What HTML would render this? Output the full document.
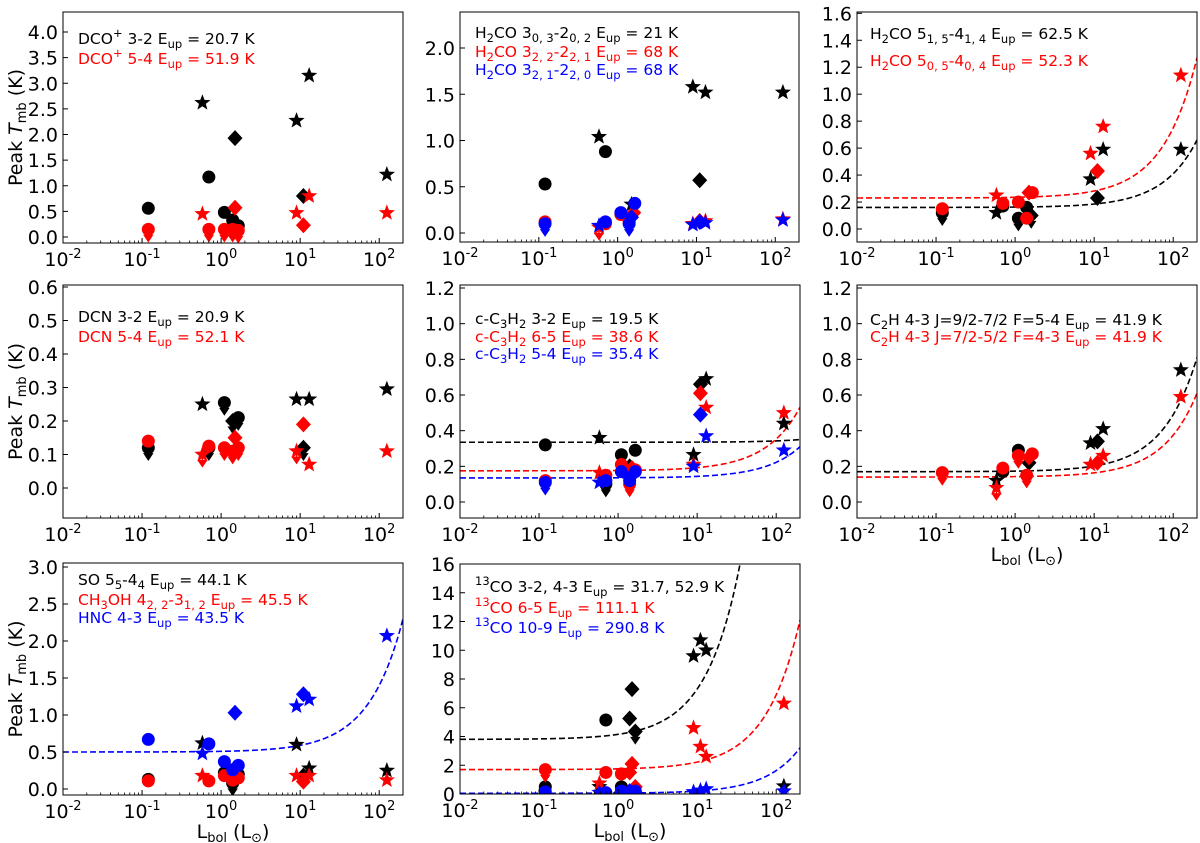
<!DOCTYPE html>
<html><head><meta charset="utf-8">
<style>
html,body{margin:0;padding:0;background:#fff;}
svg{display:block;font-family:"DejaVu Sans","Liberation Sans",sans-serif;}
text{white-space:pre;}
</style></head>
<body>
<svg id="fig" width="1200" height="843" viewBox="0 0 1200 843" xmlns="http://www.w3.org/2000/svg"></svg>
<script>
// ---------- data: [Lbol, Tpeak, marker, upperLimit] ----------
const xTickLabels = ["10^{-2}","10^{-1}","10^{0}","10^{1}","10^{2}"];
const xTickValues = [0.01,0.1,1,10,100];

const p1Black=[[0.12,0.56,'o',0],[0.58,2.62,'*',0],[0.7,1.17,'o',0],[1.1,0.48,'o',0],[1.4,0.33,'o',0],[1.5,1.93,'d',0],[1.65,0.22,'o',0],[9,2.27,'*',0],[11,0.8,'d',0],[13,3.15,'*',0],[125,1.22,'*',0]];
const p1Red=[[0.12,0.15,'o',1],[0.58,0.45,'*',0],[0.7,0.15,'o',1],[1.1,0.15,'o',1],[1.4,0.15,'o',1],[1.5,0.57,'d',0],[1.65,0.13,'o',1],[9,0.47,'*',0],[11,0.23,'d',0],[13,0.8,'*',0],[125,0.47,'*',0]];

const p2Black=[[0.12,0.53,'o',0],[0.58,1.04,'*',0],[0.7,0.88,'o',0],[1.5,0.31,'*',0],[9,1.58,'*',0],[11,0.57,'d',0],[13,1.52,'*',0],[125,1.52,'*',0]];
const p2Red=[[0.12,0.12,'o',0],[0.58,0.06,'*',1],[0.7,0.1,'o',0],[1.1,0.2,'o',0],[1.4,0.12,'o',0],[1.6,0.22,'d',0],[9,0.1,'*',0],[11,0.13,'d',0],[13,0.13,'*',0],[125,0.15,'*',0]];
const p2Blue=[[0.12,0.1,'o',1],[0.58,0.08,'*',0],[0.7,0.12,'o',0],[1.1,0.22,'o',0],[1.4,0.1,'o',1],[1.5,0.17,'d',0],[1.65,0.32,'o',0],[9,0.09,'*',0],[11,0.12,'d',0],[13,0.11,'*',0],[125,0.14,'*',0]];

const p3Black=[[0.12,0.12,'o',1],[0.58,0.12,'*',0],[0.7,0.17,'o',0],[1.1,0.08,'o',1],[1.4,0.16,'o',0],[1.6,0.1,'d',1],[9,0.37,'*',0],[11,0.23,'d',0],[13,0.59,'*',0],[125,0.59,'*',0]];
const p3Red=[[0.12,0.15,'o',0],[0.58,0.25,'*',0],[0.7,0.19,'o',0],[1.1,0.2,'o',0],[1.4,0.08,'o',0],[1.5,0.27,'d',0],[1.65,0.27,'o',0],[9,0.56,'*',0],[11,0.43,'d',0],[13,0.76,'*',0],[125,1.14,'*',0]];
const p3Fits=[[0.16,0.0025,'#000'],[0.23,0.0052,'#f00']];

const p4Black=[[0.12,0.12,'o',1],[0.58,0.25,'*',0],[0.7,0.12,'o',1],[1.1,0.255,'o',1],[1.4,0.2,'d',1],[1.65,0.21,'o',1],[9,0.265,'*',0],[11,0.12,'d',1],[13,0.265,'*',0],[125,0.295,'*',0]];
const p4Red=[[0.12,0.14,'o',0],[0.58,0.1,'*',1],[0.7,0.125,'o',0],[1.1,0.12,'o',1],[1.4,0.11,'o',1],[1.5,0.15,'d',0],[1.65,0.12,'o',1],[9,0.11,'*',1],[11,0.19,'d',0],[13,0.07,'*',0],[125,0.11,'*',0]];

const p5Black=[[0.12,0.32,'o',0],[0.58,0.36,'*',0],[0.7,0.1,'o',1],[1.1,0.265,'o',0],[1.4,0.2,'d',0],[1.65,0.29,'o',0],[9,0.265,'*',0],[11,0.66,'d',0],[13,0.69,'*',0],[125,0.44,'*',0]];
const p5Red=[[0.12,0.12,'o',0],[0.58,0.165,'*',0],[0.7,0.15,'o',0],[1.1,0.21,'o',0],[1.4,0.1,'o',1],[1.5,0.19,'d',0],[1.65,0.18,'o',0],[9,0.21,'*',0],[11,0.61,'d',0],[13,0.53,'*',0],[125,0.5,'*',0]];
const p5Blue=[[0.12,0.11,'o',1],[0.58,0.11,'*',0],[0.7,0.12,'o',0],[1.1,0.17,'o',0],[1.4,0.12,'o',0],[1.5,0.15,'d',0],[1.65,0.17,'o',0],[9,0.2,'*',0],[11,0.49,'d',0],[13,0.37,'*',0],[125,0.29,'*',0]];
const p5Fits=[[0.335,0.000075,'#000'],[0.175,0.00178,'#f00'],[0.135,0.000875,'#00f']];

const p6Black=[[0.58,0.12,'*',0],[0.7,0.17,'o',0],[1.1,0.29,'o',0],[1.5,0.22,'d',0],[9,0.33,'*',0],[11,0.34,'d',0],[13,0.41,'*',0],[125,0.74,'*',0]];
const p6Red=[[0.12,0.165,'o',1],[0.58,0.08,'*',1],[0.7,0.19,'o',0],[1.1,0.26,'o',1],[1.4,0.15,'o',1],[1.5,0.25,'d',0],[1.65,0.27,'o',0],[9,0.21,'*',0],[11,0.22,'d',0],[13,0.26,'*',0],[125,0.59,'*',0]];
const p6Fits=[[0.17,0.0032,'#000'],[0.14,0.00235,'#f00']];

const p7Black=[[0.12,0.13,'o',0],[0.58,0.62,'*',0],[1.1,0.22,'o',0],[1.4,0.08,'o',1],[1.65,0.2,'o',0],[9,0.6,'*',0],[11,0.18,'d',0],[13,0.28,'*',0],[125,0.25,'*',0]];
const p7Red=[[0.12,0.11,'o',0],[0.58,0.18,'*',0],[0.7,0.11,'o',0],[1.1,0.18,'o',0],[1.4,0.12,'o',0],[1.5,0.15,'d',0],[1.65,0.15,'o',0],[9,0.18,'*',0],[11,0.1,'d',0],[13,0.18,'*',0],[125,0.12,'*',0]];
const p7Blue=[[0.12,0.67,'o',0],[0.58,0.48,'*',0],[0.7,0.61,'o',0],[1.1,0.37,'o',0],[1.4,0.26,'o',0],[1.5,1.03,'d',0],[1.65,0.32,'o',0],[9,1.12,'*',0],[11,1.28,'d',0],[13,1.21,'*',0],[125,2.07,'*',0]];
const p7Fits=[[0.5,0.009,'#00f']];

const p8Black=[[0.12,0.5,'o',0],[0.58,0.5,'*',0],[0.7,5.15,'o',0],[1.1,0.5,'o',0],[1.4,5.25,'d',0],[1.5,7.3,'d',0],[1.65,4.35,'d',1],[9,9.6,'*',0],[11,10.7,'*',0],[13,10.0,'*',0],[125,0.55,'*',0]];
const p8Red=[[0.12,1.7,'o',1],[0.58,0.75,'*',0],[0.7,1.5,'o',0],[1.1,1.4,'o',0],[1.4,1.5,'d',0],[1.5,2.1,'d',0],[1.65,0.5,'d',0],[9,4.6,'*',0],[11,3.3,'*',0],[13,2.6,'*',0],[125,6.3,'*',0]];
const p8Blue=[[0.12,0.15,'o',0],[0.58,0.1,'*',0],[0.7,0.1,'o',0],[1.1,0.2,'o',0],[1.4,0.2,'d',0],[1.65,0.2,'o',0],[9,0.15,'*',0],[11,0.25,'*',0],[13,0.35,'*',0],[125,0.2,'*',0]];
const p8Fits=[[3.8,0.35,'#000'],[1.7,0.052,'#f00'],[0.05,0.0158,'#00f']];

// ---------- rendering ----------
const NS="http://www.w3.org/2000/svg";
const fig=document.getElementById('fig');
function el(tag,attrs,parent){const e=document.createElementNS(NS,tag);for(const k in attrs)e.setAttribute(k,attrs[k]);(parent||fig).appendChild(e);return e;}
function rich(s,sub){sub=sub||11;const re=/([_^])\{([^}]*)\}/g;let last=0,m;const segs=[];
 while((m=re.exec(s))){if(m.index>last)segs.push([s.slice(last,m.index),0]);segs.push([m[2],m[1]=='_'?1:-1]);last=re.lastIndex;}
 if(last<s.length)segs.push([s.slice(last),0]);
 let level=0,out='';for(const [t,l] of segs){const target=l==1?4:(l==-1?-Math.round(sub*0.6):0);const dy=target-level;level=target;
 out+='<tspan dy="'+dy+'"'+(l?' font-size="'+sub+'"':'')+'>'+t+'</tspan>';}return out;}
function starPath(cx,cy,R){let d='';for(let i=0;i<10;i++){const r=i%2?R*0.42:R;const a=-Math.PI/2+i*Math.PI/5;d+=(i?'L':'M')+(cx+r*Math.cos(a)).toFixed(2)+' '+(cy+r*Math.sin(a)).toFixed(2);}return d+'Z';}

const panels=[
 {id:'dco',f:[63,12,403,243],ya:[0,237],yb:[4,32],ticks:[0,0.5,1,1.5,2,2.5,3,3.5,4],dec:1,series:[[p1Black,'#000'],[p1Red,'#f00']],fits:[],
  leg:[["DCO^{+} 3-2 E_{up} = 20.7 K",'#000',44],["DCO^{+} 5-4 E_{up} = 51.9 K",'#f00',64]],lx:78,ylab:true},
 {id:'h2co-303',f:[460,12,799,242],ya:[0,233],yb:[2,48],ticks:[0,0.5,1,1.5,2],dec:1,series:[[p2Black,'#000'],[p2Red,'#f00'],[p2Blue,'#00f']],fits:[],
  leg:[["H_{2}CO 3_{0, 3}-2_{0, 2} E_{up} = 21 K",'#000',38],["H_{2}CO 3_{2, 2}-2_{2, 1} E_{up} = 68 K",'#f00',57],["H_{2}CO 3_{2, 1}-2_{2, 0} E_{up} = 68 K",'#00f',75]],lx:475},
 {id:'h2co-515',f:[857,12,1197,242],ya:[0,229],yb:[1.6,13.3],ticks:[0,0.2,0.4,0.6,0.8,1,1.2,1.4,1.6],dec:1,series:[[p3Black,'#000'],[p3Red,'#f00']],fits:p3Fits,
  leg:[["H_{2}CO 5_{1, 5}-4_{1, 4} E_{up} = 62.5 K",'#000',39],["H_{2}CO 5_{0, 5}-4_{0, 4} E_{up} = 52.3 K",'#f00',66]],lx:870},
 {id:'dcn',f:[63,285,403,518],ya:[0,488],yb:[0.6,287],ticks:[0,0.1,0.2,0.3,0.4,0.5,0.6],dec:1,series:[[p4Black,'#000'],[p4Red,'#f00']],fits:[],
  leg:[["DCN 3-2 E_{up} = 20.9 K",'#000',322],["DCN 5-4 E_{up} = 52.1 K",'#f00',342]],lx:78,ylab:true},
 {id:'c3h2',f:[460,285,800,518],ya:[0,502],yb:[1.2,288],ticks:[0,0.2,0.4,0.6,0.8,1,1.2],dec:1,series:[[p5Black,'#000'],[p5Red,'#f00'],[p5Blue,'#00f']],fits:p5Fits,
  leg:[["c-C_{3}H_{2} 3-2 E_{up} = 19.5 K",'#000',324],["c-C_{3}H_{2} 6-5 E_{up} = 38.6 K",'#f00',342],["c-C_{3}H_{2} 5-4 E_{up} = 35.4 K",'#00f',359]],lx:475},
 {id:'c2h',f:[857,285,1197,518],ya:[0,502],yb:[1.2,288],ticks:[0,0.2,0.4,0.6,0.8,1,1.2],dec:1,series:[[p6Black,'#000'],[p6Red,'#f00']],fits:p6Fits,
  leg:[["C_{2}H 4-3 J=9/2-7/2 F=5-4 E_{up} = 41.9 K",'#000',325],["C_{2}H 4-3 J=7/2-5/2 F=4-3 E_{up} = 41.9 K",'#f00',342]],lx:870,xlab:true},
 {id:'so',f:[63,563,403,795],ya:[0,789],yb:[3,567],ticks:[0,0.5,1,1.5,2,2.5,3],dec:1,series:[[p7Black,'#000'],[p7Red,'#f00'],[p7Blue,'#00f']],fits:p7Fits,
  leg:[["SO 5_{5}-4_{4} E_{up} = 44.1 K",'#000',585],["CH_{3}OH 4_{2, 2}-3_{1, 2} E_{up} = 45.5 K",'#f00',605],["HNC 4-3 E_{up} = 43.5 K",'#00f',623]],lx:78,ylab:true,xlab:true},
 {id:'13co',f:[460,564,800,794],ya:[0,794],yb:[16,564],ticks:[0,2,4,6,8,10,12,14,16],dec:0,series:[[p8Black,'#000'],[p8Red,'#f00'],[p8Blue,'#00f']],fits:p8Fits,
  leg:[["^{13}CO 3-2, 4-3 E_{up} = 31.7, 52.9 K",'#000',592],["^{13}CO 6-5 E_{up} = 111.1 K",'#f00',613],["^{13}CO 10-9 E_{up} = 290.8 K",'#00f',633]],lx:475,xlab:true}
];

panels.forEach((p,pi)=>{
 const [x0,y0,x1,y1]=p.f;
 const X=v=>x0+(Math.log10(v)+2)/(Math.log10(200)+2)*(x1-x0);
 const Y=v=>p.ya[1]+(v-p.ya[0])*(p.yb[1]-p.ya[1])/(p.yb[0]-p.ya[0]);
 const g=el('g',{});
 
 
 const cp=el('clipPath',{id:'clip'+pi},g);
 el('rect',{x:x0,y:y0,width:x1-x0,height:y1-y0},cp);
 const plot=el('g',{'clip-path':'url(#clip'+pi+')'},g);
 
 
 p.fits.forEach(ft=>{
  let d='';for(let i=0;i<=200;i++){const lv=-2+i*(Math.log10(200)+2)/200;const L=Math.pow(10,lv);d+=(i?'L':'M')+X(L).toFixed(2)+' '+Y(ft[0]+ft[1]*L).toFixed(2);}
  const path=el('path',{d:d,fill:'none',stroke:ft[2],'stroke-width':1.6,'stroke-dasharray':'6,3'},plot);
  
  
 });
 p.series.forEach(([arr,col])=>{
  arr.forEach(pt=>{
   const cx=X(pt[0]),cy=Y(pt[1]);let m;
   if(pt[3]){
    const a=el('path',{d:'M'+cx+' '+cy+'L'+cx+' '+(cy+8)+'M'+(cx-4)+' '+(cy+6)+'L'+(cx+4)+' '+(cy+6)+'L'+cx+' '+(cy+12)+'Z',stroke:col,fill:col,'stroke-width':1.3},plot);
    
    
   }
   if(pt[2]=='o')m=el('circle',{cx:cx,cy:cy,r:6.5,fill:col},plot);
   else if(pt[2]=='d')m=el('path',{d:'M'+cx+' '+(cy-8)+'L'+(cx+7.5)+' '+cy+'L'+cx+' '+(cy+8)+'L'+(cx-7.5)+' '+cy+'Z',fill:col},plot);
   else m=el('path',{d:starPath(cx,cy,8.5),fill:col},plot);
   
   
  });
 });
 const fr=el('rect',{x:x0,y:y0,width:x1-x0,height:y1-y0,fill:'none',stroke:'#000','stroke-width':1},g);
 
 
 for(let dcd=-2;dcd<=2;dcd++){for(let k=2;k<=9;k++){const v=k*Math.pow(10,dcd);if(v>200)break;const tx=X(v);el('line',{x1:tx,x2:tx,y1:y1,y2:y1-2.5,stroke:'#000','stroke-width':0.8},g);}}
 xTickValues.forEach((v,i)=>{const tx=X(v);el('line',{x1:tx,x2:tx,y1:y1,y2:y1-5,stroke:'#000','stroke-width':1},g);
  const t=el('text',{x:tx,y:y1+23,'text-anchor':'middle','font-size':19},g);t.innerHTML=rich(xTickLabels[i],13);
  
  });
 p.ticks.forEach(v=>{const ty=Y(v);el('line',{x1:x0,x2:x0+5,y1:ty,y2:ty,stroke:'#000','stroke-width':1},g);
  const t=el('text',{x:x0-5,y:ty+7,'text-anchor':'end','font-size':19},g);t.textContent=v.toFixed(p.dec);
  
  });
 p.leg.forEach(([s,c,by])=>{const t=el('text',{x:p.lx,y:by,'font-size':15.5,fill:c},g);t.innerHTML=rich(s,11.5);
  
  });
 if(p.ylab){const cy=(y0+y1)/2;const t=el('text',{x:0,y:0,'font-size':19,'text-anchor':'middle',transform:'translate(22,'+cy+') rotate(-90)'},g);
  t.innerHTML='Peak <tspan font-style="italic">T</tspan><tspan dy="4" font-size="13">mb</tspan><tspan dy="-4"> (K)</tspan>';
  
  }
 if(p.xlab){const t=el('text',{x:(x0+x1)/2,y:y1+43,'font-size':19,'text-anchor':'middle'},g);
  t.innerHTML='L<tspan dy="4" font-size="13">bol</tspan><tspan dy="-4"> (L</tspan><tspan dy="4" font-size="13">⊙</tspan><tspan dy="-4">)</tspan>';
  
  }
});
</script>
</body></html>
